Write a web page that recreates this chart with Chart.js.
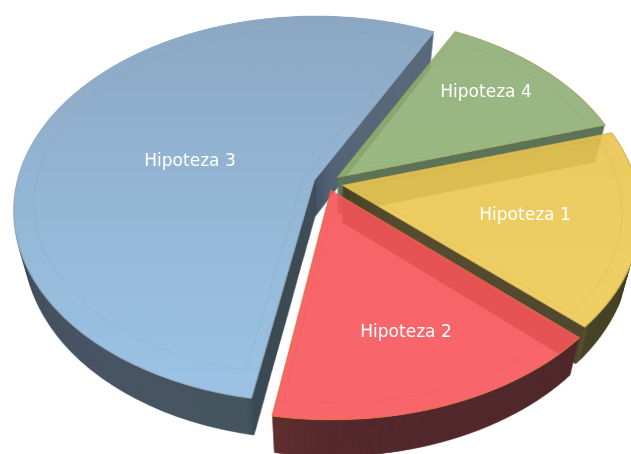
<!DOCTYPE html>
<html>
<head>
<meta charset="utf-8">
<script src="https://cdn.jsdelivr.net/npm/chart.js@4"></script>
<style>html,body{margin:0;padding:0;background:#fff;overflow:hidden}canvas{display:block}</style>
</head>
<body>
<canvas id="c" width="631" height="454"></canvas>
<script>
const categories = ['Hipoteza 1', 'Hipoteza 2', 'Hipoteza 3', 'Hipoteza 4'];
const values = [16.6, 15.8, 54.9, 12.7];
const sliceOffsets = [44, 33, 39, 38];
const sliceScale = [0.98, 1.005, 0.953, 0.975];
const drawOrder = [2, 3, 0, 1];

// styles
const topTop = ['rgba(228,190,75,.9)', 'rgba(246,83,88,.9)', 'rgba(127,158,189,.9)', 'rgba(141,172,118,.9)'];
const topBottom = ['rgba(240,205,85,.9)', 'rgba(248,85,90,.9)', 'rgba(144,188,225,.9)', 'rgba(146,184,116,.9)'];
const edgeColors = ['#c9a84a', '#e2703f', '#8fa6bd', '#a59a4a'];
const wallStops = [
  [[0, '#4a4528'], [41, '#4a4528'], [42.3, '#5f5233'], [43.2, '#33352a'], [360, '#33352a']],
  [[0, '#4e2a2c'], [90, '#55292d'], [98, '#5e2f2e'], [360, '#5e2f2e']],
  [[0, '#4a5a69'], [98.5, '#333e47'], [101, '#46565f'], [135, '#4a5566'], [155, '#46555f'], [172, '#333e48'], [200, '#333e48'], [294.5, '#44546a'], [296.8, '#5b6c7d'], [360, '#5b6c7d']],
  [[0, '#5d7459'], [360, '#5d7459']]
];
// projection of the flat pie onto the tilted view
const view = { xc: 327, yc: 183, a: 298, b: 190, k: 0.15, depth: 37, shrink: 0.035 };
const labelSpots = [[525, 216], [406, 333], [190, 162], [486, 93]];

const SRC = 1200, SRC_R = 520;
function newCanvas(w, h) { const c = document.createElement('canvas'); c.width = w; c.height = h; return c; }

function warp(src, dst, W, H) {
  const { xc, yc, a, b, k } = view;
  dst.imageSmoothingEnabled = true;
  dst.imageSmoothingQuality = 'high';
  const vOf = Y => Y / (b + k * Y);
  for (let y = 0; y < H; y++) {
    const v = vOf(y - yc), v2 = vOf(y + 1 - yc);
    if (Math.abs(v) > 1.14) continue;
    const w = 1 / (1 - k * v);
    const dw = SRC * a * w / SRC_R;
    dst.drawImage(src, 0, SRC / 2 + v * SRC_R, SRC, (v2 - v) * SRC_R, xc - dw / 2, y, dw, 1);
  }
}

const pie3d = {
  id: 'pie3d',
  beforeDatasetsDraw(chart) {
    const main = chart.ctx, W = chart.width, H = chart.height;
    const arcs = chart.getDatasetMeta(0).data;
    const sc = SRC_R / arcs[0].outerRadius;
    const cx = arcs[0].x, cy = arcs[0].y, R = arcs[0].outerRadius;

    const flat = (i, opts, pre) => {
      const src = newCanvas(SRC, SRC), o = src.getContext('2d');
      o.translate(SRC / 2, SRC / 2); o.scale(sc, sc); o.translate(-cx, -cy);
      o.translate(cx, cy); o.scale(sliceScale[i], sliceScale[i]); o.translate(-cx, -cy);
      if (pre) pre(o);
      const el = arcs[i], saved = el.options;
      el.options = Object.assign({}, saved, typeof opts === 'function' ? opts(o) : opts);
      el.draw(o);
      el.options = saved;
      return src;
    };

    drawOrder.forEach(i => {
      const buf = newCanvas(W, H), b = buf.getContext('2d');
      // extruded wall
      const wallSrc = flat(i, o => {
        const g = o.createConicGradient(0, cx, cy);
        wallStops[i].forEach(s => g.addColorStop(s[0] / 360, s[1]));
        return { backgroundColor: g, borderWidth: 0 };
      });
      const layer = newCanvas(W, H), lc = layer.getContext('2d');
      warp(wallSrc, lc, W, H);
      for (let t = view.depth; t >= 1; t--) {
        const s = 1 - view.shrink * t / view.depth;
        b.setTransform(s, 0, 0, 1, view.xc * (1 - s), t);
        b.drawImage(layer, 0, 0);
      }
      b.setTransform(1, 0, 0, 1, 0, 0);
      // remove wall behind the top face
      const solidSrc = flat(i, { backgroundColor: '#000', borderWidth: 0 });
      const solid = newCanvas(W, H);
      warp(solidSrc, solid.getContext('2d'), W, H);
      b.globalCompositeOperation = 'destination-out';
      b.drawImage(solid, 0, 0);
      b.globalCompositeOperation = 'source-over';
      // top face
      const topSrc = flat(i, o => {
        const g = o.createLinearGradient(0, cy - R, 0, cy + R);
        g.addColorStop(0, topTop[i]); g.addColorStop(1, topBottom[i]);
        return { backgroundColor: g, borderWidth: 0.7, borderColor: edgeColors[i] };
      });
      warp(topSrc, b, W, H);
      // faint inner bevel line
      const mid = (arcs[i].startAngle + arcs[i].endAngle) / 2;
      const px = cx + Math.cos(mid) * R * 0.45, py = cy + Math.sin(mid) * R * 0.45;
      const bevelSrc = flat(i, { backgroundColor: 'rgba(0,0,0,0)', borderWidth: 0.8, borderColor: 'rgba(110,90,60,.09)' },
        o => { o.translate(px, py); o.scale(0.9, 0.9); o.translate(-px, -py); });
      warp(bevelSrc, b, W, H);
      // composite
      main.save();
      main.filter = 'blur(0.45px)';
      main.drawImage(buf, 0, 0);
      main.restore();
    });

    main.save();
    main.fillStyle = '#fff';
    main.font = "17px 'DejaVu Sans'";
    main.textAlign = 'center';
    main.textBaseline = 'middle';
    categories.forEach((c, i) => main.fillText(c, labelSpots[i][0], labelSpots[i][1]));
    main.restore();
    return false;
  }
};

new Chart(document.getElementById('c'), {
  type: 'pie',
  data: { labels: categories, datasets: [{ data: values, offset: sliceOffsets, borderWidth: 0, backgroundColor: '#888' }] },
  options: {
    responsive: false, animation: false, rotation: 73,
    plugins: { legend: { display: false }, tooltip: { enabled: false } }
  },
  plugins: [pie3d]
});
</script>
</body>
</html>
